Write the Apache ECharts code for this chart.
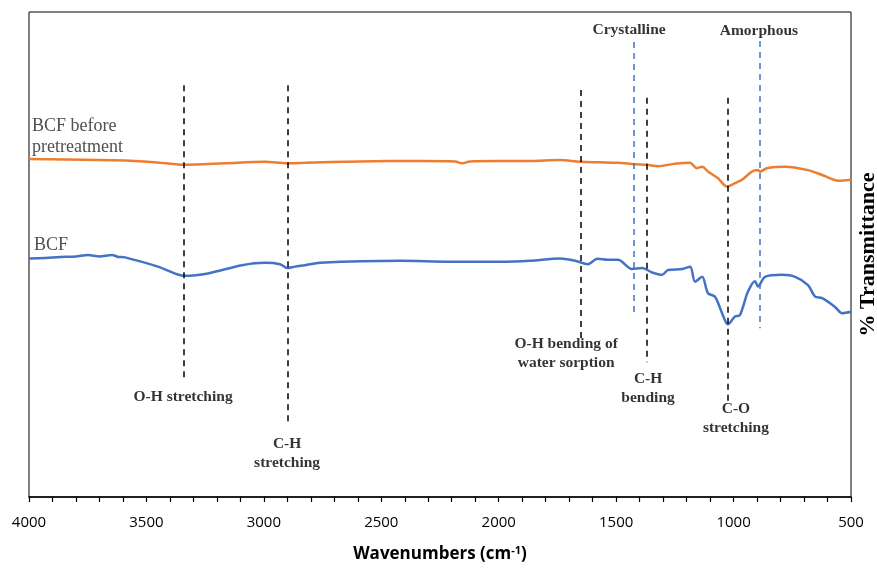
<!DOCTYPE html>
<html>
<head>
<meta charset="utf-8">
<script src="https://cdn.jsdelivr.net/npm/echarts@6/dist/echarts.min.js"></script>
<style>
  html, body { margin: 0; padding: 0; background: #fff; }
  #chart { width: 877px; height: 568px; }
</style>
</head>
<body>
<div id="chart"></div>
<script>
// 光谱数据（读自原图，纵轴为相对单位）
var beforeWave = [4000, 3591, 3549, 3442, 3336, 3165, 2995, 2901, 2825, 2591, 2335, 2186, 2156, 2122, 2007, 1867, 1739, 1654, 1569, 1492, 1420, 1369, 1322, 1250, 1186, 1156, 1134, 1109, 1066, 1028, 994, 964, 922, 896, 887, 858, 781, 683, 623, 555, 500];
var beforeVal = [69.7, 69.4, 69.3, 68.9, 68.5, 68.8, 69.1, 68.8, 68.9, 69.2, 69.3, 69.2, 68.8, 69.2, 69.3, 69.3, 69.5, 69.1, 69.0, 68.9, 68.6, 68.5, 68.2, 68.7, 68.9, 67.8, 68.1, 67.1, 65.7, 64.0, 64.7, 65.4, 67.1, 67.4, 67.1, 67.8, 68.1, 67.4, 66.4, 65.2, 65.4];

var bcfWave = [4000, 3930, 3868, 3800, 3749, 3700, 3647, 3620, 3591, 3451, 3336, 3238, 3093, 2995, 2931, 2901, 2867, 2825, 2761, 2420, 2207, 1994, 1867, 1739, 1675, 1620, 1580, 1535, 1492, 1433, 1390, 1347, 1305, 1279, 1219, 1185, 1164, 1134, 1109, 1079, 1049, 1024, 994, 973, 939, 909, 896, 866, 794, 738, 683, 653, 623, 568, 538, 500];
var bcfVal = [49.2, 49.3, 49.5, 49.6, 49.9, 49.6, 49.9, 49.5, 49.4, 47.5, 45.6, 46.1, 47.8, 48.3, 48.0, 47.2, 47.5, 47.8, 48.3, 48.7, 48.5, 48.5, 48.7, 49.2, 48.7, 48.0, 49.1, 48.9, 48.9, 47.0, 47.2, 46.3, 45.8, 46.8, 47.0, 47.5, 44.4, 45.4, 42.0, 41.3, 37.9, 35.6, 37.2, 37.5, 42.3, 44.5, 43.4, 45.4, 45.8, 45.4, 43.7, 41.3, 41.0, 39.2, 37.9, 38.2];

// 标注竖线：位置、上端、下端
var blackLineWave = [3340, 2900, 1650, 1370, 1025];
var blackLineTop = [84.9, 84.9, 83.9, 82.3, 82.3];
var blackLineBottom = [24.1, 14.8, 32.4, 27.8, 19.6];
var blueLineWave = [1425, 890];
var blueLineTop = [93.8, 94.0];
var blueLineBottom = [37.5, 34.8];

// 标注文字
var noteText = ['Crystalline', 'Amorphous', 'O-H stretching', 'C-H\nstretching', 'O-H bending of\nwater sorption', 'C-H\nbending', 'C-O\nstretching'];
var noteWave = [1445, 892, 3344, 2901, 1713, 1364, 990];
var noteVal = [96.3, 96.1, 20.6, 8.9, 29.5, 22.3, 16.1];

var seriesText = ['BCF before\npretreatment', 'BCF'];
var seriesTextWave = [3987, 3979];
var seriesTextVal = [74.3, 52.0];

var xTicks = [500, 4000, 500]; // min, max, interval

function pairs(xs, ys) {
	var out = [];
	for (var i = 0; i < xs.length; i++) {
		out.push([xs[i], ys[i]]);
	}
	return out;
}

function vLines(xs, tops, bottoms) {
	var out = [];
	for (var i = 0; i < xs.length; i++) {
		out.push([{ coord: [xs[i], tops[i]] }, { coord: [xs[i], bottoms[i]] }]);
	}
	return out;
}

var noteData = [];
for (var i = 0; i < noteText.length; i++) {
	noteData.push({ value: [noteWave[i], noteVal[i]], name: noteText[i] });
}
var seriesTextData = [];
for (var j = 0; j < seriesText.length; j++) {
	seriesTextData.push({ value: [seriesTextWave[j], seriesTextVal[j]], name: seriesText[j] });
}

var myChart = echarts.init(document.getElementById('chart'));
var option = {
	animation: false,
	grid: {
		left: 29,
		right: 26,
		top: 12,
		bottom: 71,
		outerBoundsMode: 'none',
		containLabel: false,
		show: true,
		borderColor: '#000',
		borderWidth: 1
	},
	xAxis: {
		type: 'value',
		min: xTicks[0],
		max: xTicks[1],
		interval: xTicks[2],
		inverse: true,
		name: '{a|Wavenumbers (cm}{s|-1}{a|)}',
		nameLocation: 'middle',
		nameGap: 48,
		nameTextStyle: {
			rich: {
				a: { fontFamily: 'Open Sans', fontSize: 17, fontWeight: 'bold', color: '#000' },
				s: { fontFamily: 'Open Sans', fontSize: 11, fontWeight: 'bold', color: '#000', verticalAlign: 'top', padding: [0, 0, 8, 0] }
			}
		},
		axisLine: { show: true, lineStyle: { color: '#000', width: 1.5 } },
		axisTick: { show: true, inside: false, length: 5, lineStyle: { color: '#000', width: 1.2 } },
		minorTick: { show: true, splitNumber: 5, length: 5, lineStyle: { color: '#000', width: 1.2 } },
		axisLabel: {
			fontFamily: 'Open Sans', fontSize: 15, color: '#000', margin: 18,
			formatter: function (v) { return String(v); }
		},
		splitLine: { show: false }
	},
	yAxis: {
		type: 'value',
		min: 0,
		max: 100,
		position: 'right',
		name: '% Transmittance',
		nameLocation: 'middle',
		nameRotate: 90,
		nameGap: 6,
		nameTextStyle: { fontFamily: 'Liberation Serif', fontSize: 22, fontWeight: 'bold', color: '#000' },
		axisLine: { show: false },
		axisTick: { show: false },
		axisLabel: { show: false },
		splitLine: { show: false }
	},
	series: [{
		name: 'BCF before pretreatment',
		type: 'line',
		data: pairs(beforeWave, beforeVal),
		showSymbol: false,
		smooth: 0.3,
		lineStyle: { color: '#ED7D31', width: 2.5 },
		z: 3
	}, {
		name: 'BCF',
		type: 'line',
		data: pairs(bcfWave, bcfVal),
		showSymbol: false,
		smooth: 0.3,
		lineStyle: { color: '#4472C4', width: 2.5 },
		z: 3
	}, {
		name: 'lines',
		type: 'line',
		data: [],
		markLine: {
			silent: true,
			symbol: ['none', 'none'],
			label: { show: false },
			lineStyle: { color: '#000', type: [6, 5], width: 1.5 },
			data: vLines(blackLineWave, blackLineTop, blackLineBottom)
		},
		z: 2
	}, {
		name: 'blueLines',
		type: 'line',
		data: [],
		markLine: {
			silent: true,
			symbol: ['none', 'none'],
			label: { show: false },
			lineStyle: { color: '#4472C4', type: [6, 5], width: 1.5 },
			data: vLines(blueLineWave, blueLineTop, blueLineBottom)
		},
		z: 2
	}, {
		name: 'notes',
		type: 'scatter',
		symbolSize: 0,
		data: noteData,
		label: {
			show: true,
			position: 'inside',
			formatter: '{b}',
			fontFamily: 'Liberation Serif',
			fontSize: 15.5,
			fontWeight: 'bold',
			lineHeight: 19,
			color: '#000',
			align: 'center'
		},
		z: 5
	}, {
		name: 'seriesNames',
		type: 'scatter',
		symbolSize: 0,
		data: seriesTextData,
		label: {
			show: true,
			position: 'inside',
			formatter: '{b}',
			fontFamily: 'Liberation Serif',
			fontSize: 18,
			lineHeight: 21,
			color: '#222',
			align: 'left'
		},
		z: 5
	}]
};
myChart.setOption(option);
</script>
</body>
</html>
